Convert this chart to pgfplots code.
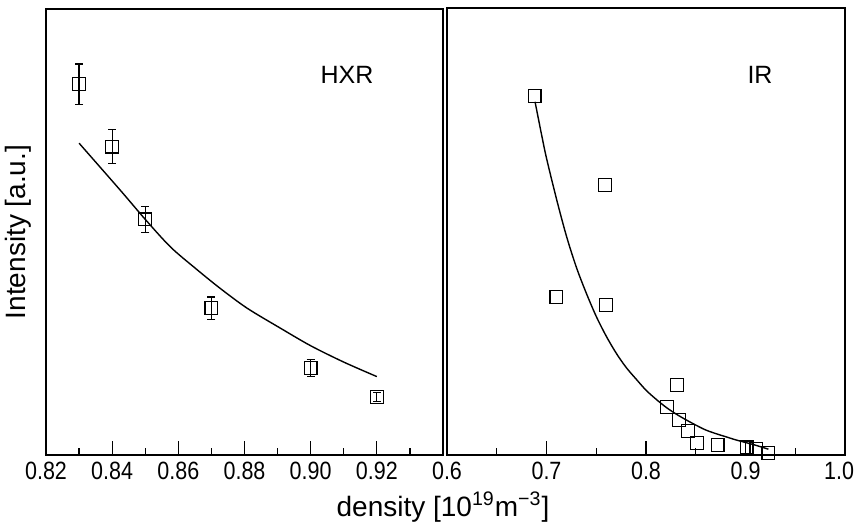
\documentclass[border=0pt]{standalone}
\usepackage{fontspec}
\setmainfont{Liberation Sans}
\newfontfamily\narrowsans{Liberation Sans}[FakeStretch=0.86]
\usepackage{pgfplots}
\pgfplotsset{compat=1.18}
\pgfplotstableread{
x y err
0.83 9.98 0.54
0.84 8.30 0.46
0.85 6.34 0.35
0.87 3.95 0.30
0.90 2.34 0.23
0.92 1.56 0.12
}\hxrdata
\pgfplotstableread{
x y
0.8300 8.39
0.8424 7.13
0.8500 6.34
0.8576 5.60
0.8652 5.02
0.8727 4.48
0.8808 3.95
0.8909 3.41
0.9000 2.94
0.9100 2.50
0.9200 2.11
}\hxrfit
\pgfplotstableread{
x y
0.688 8.03
0.759 6.04
0.710 3.53
0.760 3.36
0.831 1.57
0.821 1.07
0.833 0.78
0.842 0.54
0.851 0.27
0.872 0.22
0.901 0.17
0.911 0.13
0.923 0.05
}\irdata
\pgfplotstableread{
x y
0.6885 7.90
0.695 7.17
0.700 6.64
0.710 5.73
0.720 4.90
0.730 4.20
0.740 3.62
0.750 3.10
0.760 2.66
0.770 2.28
0.780 1.96
0.790 1.70
0.800 1.45
0.810 1.25
0.820 1.07
0.830 0.92
0.840 0.79
0.850 0.67
0.860 0.56
0.870 0.48
0.880 0.41
0.890 0.34
0.900 0.28
0.910 0.22
0.923 0.13
}\irfit
\begin{document}
\begin{tikzpicture}[font=\fontsize{12.5}{15}\selectfont]
\pgfplotsset{
  every axis/.append style={
    scale only axis,
    clip=false,
    axis line style={line width=0.8pt},
    tick align=inside,
    xtick pos=bottom, ytick pos=left,
    ytick=\empty,
    major tick length=7pt,
    minor tick length=3.3pt,
    every tick/.style={black, line width=0.6pt},
    xticklabel style={font=\narrowsans\fontsize{12.5}{15}\selectfont},
    /pgf/number format/assume math mode=true,
  }
}
\path[use as bounding box] (-23pt,-35.5pt) rectangle (407pt,227.5pt);
\begin{axis}[name=left, at={(0,0)}, anchor=south west,
  width=198.5pt, height=223pt,
  xmin=0.82, xmax=0.94, ymin=0, ymax=12,
  xtick={0.82,0.84,0.86,0.88,0.90,0.92},
  xticklabels={0.82,0.84,0.86,0.88,0.90,0.92},
  minor xtick={0.83,0.85,0.87,0.89,0.91,0.93},
  minor ytick={1,2,3,4,5,6,7,8,9,10,11},
  ylabel={Intensity [a.u.]},
  ylabel style={at={(axis description cs:-0.0705,0.5)}, anchor=center, font=\fontsize{14}{16}\selectfont},
  xlabel={density [10\textsuperscript{19}m\textsuperscript{\char"2212 3}]},
  xlabel style={at={(axis description cs:1.0,0)}, anchor=center, yshift=-26pt, font=\fontsize{14}{16}\selectfont},
]
\addplot[black, line width=0.7pt, smooth] table[x=x, y=y] {\hxrfit};
\addplot[black, only marks, mark=square, mark size=3.2pt,
  mark options={line width=0.6pt},
  error bars/.cd, y dir=both, y explicit,
  error bar style={line width=0.6pt},
  error mark options={rotate=90, mark size=2pt, line width=0.6pt}]
  table[x=x, y=y, y error=err] {\hxrdata};
\node at (axis cs:0.911,10.22) {HXR};
\end{axis}
\begin{axis}[name=right, at={(200.5pt,0)}, anchor=south west,
  width=199pt, height=223.5pt,
  xmin=0.6, xmax=1.0, ymin=0, ymax=10,
  xtick={0.6,0.7,0.8,0.9,1.0},
  xticklabels={0.6,0.7,0.8,0.9,\kern-6pt 1.0},
  minor xtick={0.65,0.75,0.85,0.95},
  minor ytick={1,2,3,4,5,6,7,8,9},
]
\addplot[black, line width=0.7pt, smooth] table[x=x, y=y] {\irfit};
\addplot[black, only marks, mark=square, mark size=3.2pt,
  mark options={line width=0.6pt}] table[x=x, y=y] {\irdata};
\node at (axis cs:0.9146,8.5) {IR};
\end{axis}
\end{tikzpicture}
\end{document}
